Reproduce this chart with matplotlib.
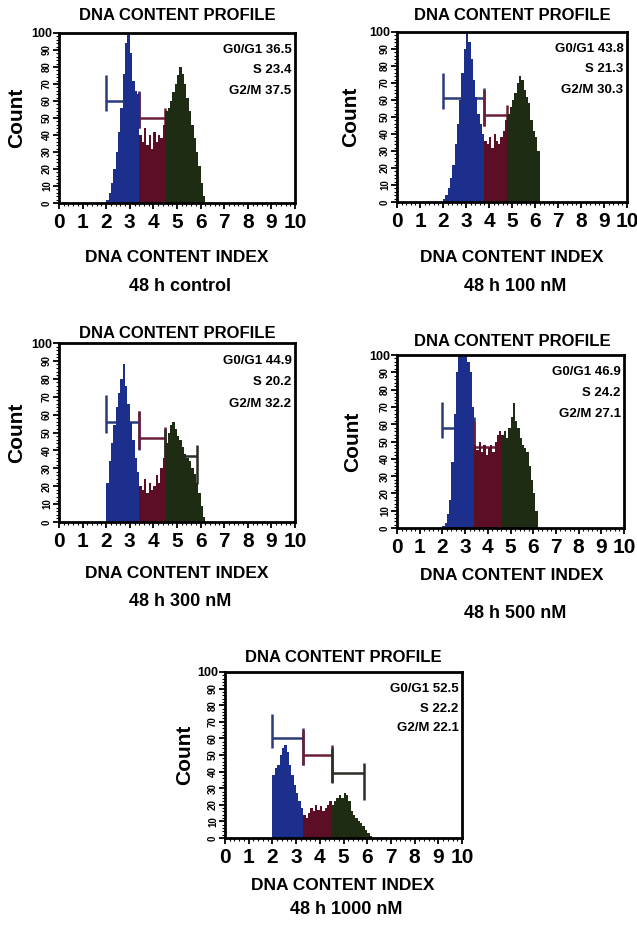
import matplotlib
matplotlib.use("Agg")
import matplotlib.pyplot as plt
from matplotlib.ticker import MultipleLocator, FixedLocator
import numpy as np

# ---------------- data ----------------
captions = ["48 h control", "48 h 100 nM", "48 h 300 nM", "48 h 500 nM", "48 h 1000 nM"]
g0g1_pct = [36.5, 43.8, 44.9, 46.9, 52.5]
s_pct = [23.4, 21.3, 20.2, 24.2, 22.2]
g2m_pct = [37.5, 30.3, 32.2, 27.1, 22.1]

bin_start = 2.0
bin_width = 0.1

# counts per 0.1-wide DNA-index bin, split by phase (G0/G1, S, G2/M)
control_g1 = [2, 6, 12, 20, 30, 42, 56, 76, 94, 100, 88, 72, 66, 64]
control_s = [40, 36, 44, 34, 40, 32, 42, 36, 40, 38, 46]
control_g2 = [54, 56, 60, 65, 70, 75, 80, 76, 70, 62, 54, 46, 38, 30, 22, 12, 4]

nm100_g1 = [2, 4, 8, 14, 22, 34, 46, 60, 76, 90, 100, 94, 84, 72, 62, 52, 46, 40]
nm100_s = [36, 34, 38, 32, 40, 36, 34, 38, 42, 48]
nm100_g2 = [52, 56, 60, 64, 70, 74, 72, 66, 62, 58, 48, 42, 38, 30]

nm300_g1 = [22, 34, 44, 54, 64, 72, 80, 88, 76, 66, 56, 46, 36, 28]
nm300_s = [20, 18, 24, 16, 22, 18, 20, 26, 22, 30, 36]
nm300_g2 = [44, 50, 54, 56, 52, 48, 46, 42, 38, 36, 34, 30, 27, 22, 16, 9, 3]

nm500_g1 = [1, 3, 8, 16, 38, 66, 90, 100, 100, 100, 100, 96, 90, 70]
nm500_s = [48, 45, 50, 44, 48, 42, 46, 48, 44, 50, 54, 56]
nm500_g2 = [54, 56, 52, 58, 64, 72, 62, 58, 52, 48, 46, 44, 36, 28, 20, 10]

nm1000_g1 = [38, 42, 44, 50, 54, 56, 52, 44, 38, 32, 27, 22, 18]
nm1000_s = [14, 12, 15, 18, 16, 20, 17, 19, 16, 18, 20, 22]
nm1000_g2 = [20, 22, 24, 26, 24, 27, 26, 22, 16, 14, 12, 10, 9, 7, 5, 3, 1]

# gate markers: (start, end, level) per phase; None = not shown
control_gates = [(2.0, 3.4, 60), (3.4, 4.5, 50), None]
nm100_gates = [(2.0, 3.8, 61), (3.8, 4.8, 51), None]
nm300_gates = [(2.0, 3.4, 56), (3.4, 4.5, 47), (4.5, 5.85, 37)]
nm500_gates = [(2.0, 3.4, 58), (3.4, 4.6, 47), None]
nm1000_gates = [(2.0, 3.3, 60), (3.3, 4.5, 50), (4.5, 5.85, 39)]

xticks = list(range(0, 11))
yticks = list(range(0, 101, 10))

# ---------------- style ----------------
FONT = ['Liberation Sans Narrow', 'Liberation Sans', 'DejaVu Sans']
plt.rcParams['font.family'] = FONT
plt.rcParams['font.weight'] = 'bold'

phase_colors = ['#1c2f8c', '#5c0f24', '#1e2c14']
gate_colors = ['#2b3a78', '#6b1f35', '#2a2f25']

W, H = 637, 935
fig = plt.figure(figsize=(W / 100, H / 100), dpi=100)
fig.patch.set_facecolor('white')


def rect(l, r, t, b):
    return [l / W, 1 - b / H, (r - l) / W, (b - t) / H]


def ftext(x, y, s, **kw):
    fig.text(x / W, 1 - y / H, s, ha='center', va='center', fontweight='bold', **kw)


panels = [
    dict(box=(59, 295, 33, 203), cx=177, title_y=15, xl_y=257, cap_y=287, count_x=17,
         g=(control_g1, control_s, control_g2), gates=control_gates),
    dict(box=(397, 627, 32, 202), cx=512, title_y=16, xl_y=257, cap_y=287, count_x=351,
         g=(nm100_g1, nm100_s, nm100_g2), gates=nm100_gates),
    dict(box=(59, 295, 343, 522), cx=177, title_y=333, xl_y=574, cap_y=602, count_x=17,
         g=(nm300_g1, nm300_s, nm300_g2), gates=nm300_gates),
    dict(box=(397, 624, 355, 528), cx=512, title_y=342, xl_y=575, cap_y=614, count_x=353,
         g=(nm500_g1, nm500_s, nm500_g2), gates=nm500_gates),
    dict(box=(225, 462, 672, 838), cx=343, title_y=657, xl_y=885, cap_y=910, count_x=185,
         g=(nm1000_g1, nm1000_s, nm1000_g2), gates=nm1000_gates),
]

for i, p in enumerate(panels):
    l, r, t, b = p['box']
    ax = fig.add_axes(rect(l, r, t, b))
    edge = bin_start
    for vals, col in zip(p['g'], phase_colors):
        edges = edge + bin_width * np.arange(len(vals) + 1)
        ax.stairs(vals, edges, fill=True, color=col, linewidth=0, zorder=3)
        edge = edges[-1]
    for gate, col in zip(p['gates'], gate_colors):
        if gate is None:
            continue
        x0, x1, lev = gate
        kw = dict(color=col, lw=1.8, solid_capstyle='butt', zorder=2)
        ax.plot([x0, x1], [lev, lev], **kw)
        ax.plot([x0, x0], [lev - 6, lev + 15], **kw)
        ax.plot([x1, x1], [lev - 16, lev + 6], **kw)

    ax.set_xlim(0, 10)
    ax.set_ylim(0, 100)
    for sp in ax.spines.values():
        sp.set_linewidth(2.0)
        sp.set_zorder(5)
    ax.xaxis.set_major_locator(FixedLocator(xticks))
    ax.xaxis.set_minor_locator(MultipleLocator(0.2))
    ax.yaxis.set_major_locator(FixedLocator(yticks))
    ax.yaxis.set_minor_locator(MultipleLocator(2))
    ax.tick_params(axis='x', which='major', length=4, width=1.3, pad=3, labelsize=15)
    ax.tick_params(axis='x', which='minor', length=2, width=0.8)
    ax.tick_params(axis='y', which='major', length=4, width=1.3, pad=1, labelsize=7)
    ax.tick_params(axis='y', which='minor', length=2, width=0.8)
    ax.set_xticklabels([str(v) for v in xticks], fontweight='bold')
    ax.set_yticklabels([str(v) for v in yticks], fontweight='bold')
    for lab in ax.get_yticklabels()[:-1]:
        lab.set_rotation(90)
        lab.set_va('center')
    ax.get_yticklabels()[-1].set_fontsize(9)

    stats = [f"G0/G1 {g0g1_pct[i]}", f"S {s_pct[i]}", f"G2/M {g2m_pct[i]}"]
    for k, s in enumerate(stats):
        ax.text(0.985, 0.90 - 0.12 * k, s, transform=ax.transAxes, ha='right', va='center',
                fontsize=9.5, fontweight='bold', zorder=6)

    ftext(p['cx'], p['title_y'], "DNA CONTENT PROFILE", fontsize=12)
    ftext(p['cx'], p['xl_y'], "DNA CONTENT INDEX", fontsize=12.5)
    ftext(p['cx'] + 3, p['cap_y'], captions[i], fontsize=13)
    ftext(p['count_x'], (t + b) / 2, "Count", fontsize=15, rotation=90)

fig.savefig("out.png", dpi=100, facecolor='white')
